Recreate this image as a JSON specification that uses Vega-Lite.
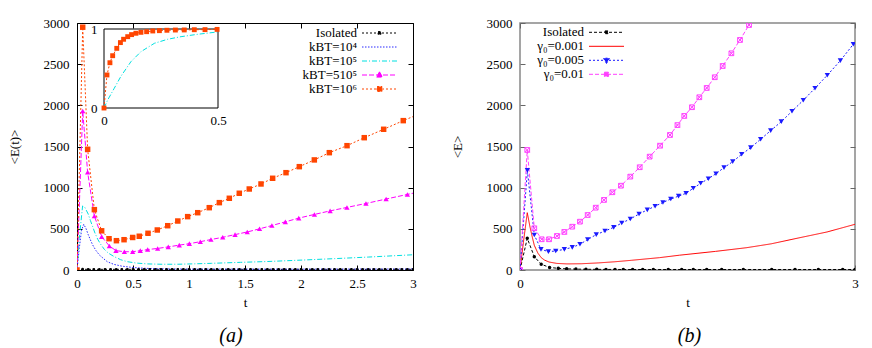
{
  "$schema": "https://vega.github.io/schema/vega-lite/v6.json",
  "padding": {"left": 7, "top": 16, "right": 5, "bottom": 3},
  "config": {
    "font": "Liberation Serif, Times New Roman, DejaVu Serif, serif",
    "axis": {"labelFont": "Liberation Serif, Times New Roman, DejaVu Serif, serif", "titleFont": "Liberation Serif, Times New Roman, DejaVu Serif, serif", "labelFontSize": 13, "titleFontSize": 13, "titleFontWeight": "normal", "labelColor": "#000", "titleColor": "#000", "tickColor": "#000", "grid": false, "domain": false},
    "legend": {"labelFont": "Liberation Serif, Times New Roman, DejaVu Serif, serif", "labelFontSize": 13, "labelColor": "#000"},
    "title": {"font": "Liberation Serif, Times New Roman, DejaVu Serif, serif"}
  },
  "datasets": {
    "a": [
      {"s": "Isolated", "t": 0, "v": 0}, {"s": "Isolated", "t": 0.05, "v": 9}, {"s": "Isolated", "t": 0.1, "v": 8}, {"s": "Isolated", "t": 0.15, "v": 8}, {"s": "Isolated", "t": 0.2, "v": 8}, {"s": "Isolated", "t": 0.25, "v": 8}, {"s": "Isolated", "t": 0.3, "v": 8}, {"s": "Isolated", "t": 0.35, "v": 8}, {"s": "Isolated", "t": 0.4, "v": 8}, {"s": "Isolated", "t": 0.45, "v": 8}, {"s": "Isolated", "t": 0.5, "v": 8}, {"s": "Isolated", "t": 0.55, "v": 8}, {"s": "Isolated", "t": 0.6, "v": 8}, {"s": "Isolated", "t": 0.65, "v": 8}, {"s": "Isolated", "t": 0.7, "v": 8}, {"s": "Isolated", "t": 0.75, "v": 8}, {"s": "Isolated", "t": 0.8, "v": 8}, {"s": "Isolated", "t": 0.85, "v": 8}, {"s": "Isolated", "t": 0.9, "v": 8}, {"s": "Isolated", "t": 0.95, "v": 8}, {"s": "Isolated", "t": 1.0, "v": 8}, {"s": "Isolated", "t": 1.05, "v": 8}, {"s": "Isolated", "t": 1.1, "v": 8}, {"s": "Isolated", "t": 1.15, "v": 8}, {"s": "Isolated", "t": 1.2, "v": 8}, {"s": "Isolated", "t": 1.25, "v": 8}, {"s": "Isolated", "t": 1.3, "v": 8}, {"s": "Isolated", "t": 1.35, "v": 8}, {"s": "Isolated", "t": 1.4, "v": 8}, {"s": "Isolated", "t": 1.45, "v": 8}, {"s": "Isolated", "t": 1.5, "v": 8}, {"s": "Isolated", "t": 1.55, "v": 8}, {"s": "Isolated", "t": 1.6, "v": 8}, {"s": "Isolated", "t": 1.65, "v": 8}, {"s": "Isolated", "t": 1.7, "v": 8}, {"s": "Isolated", "t": 1.75, "v": 8}, {"s": "Isolated", "t": 1.8, "v": 8}, {"s": "Isolated", "t": 1.85, "v": 8}, {"s": "Isolated", "t": 1.9, "v": 8}, {"s": "Isolated", "t": 1.95, "v": 8}, {"s": "Isolated", "t": 2.0, "v": 8}, {"s": "Isolated", "t": 2.05, "v": 8}, {"s": "Isolated", "t": 2.1, "v": 8}, {"s": "Isolated", "t": 2.15, "v": 8}, {"s": "Isolated", "t": 2.2, "v": 8}, {"s": "Isolated", "t": 2.25, "v": 8}, {"s": "Isolated", "t": 2.3, "v": 8}, {"s": "Isolated", "t": 2.35, "v": 8}, {"s": "Isolated", "t": 2.4, "v": 8}, {"s": "Isolated", "t": 2.45, "v": 8}, {"s": "Isolated", "t": 2.5, "v": 8}, {"s": "Isolated", "t": 2.55, "v": 8}, {"s": "Isolated", "t": 2.6, "v": 8}, {"s": "Isolated", "t": 2.65, "v": 8}, {"s": "Isolated", "t": 2.7, "v": 8}, {"s": "Isolated", "t": 2.75, "v": 8}, {"s": "Isolated", "t": 2.8, "v": 8}, {"s": "Isolated", "t": 2.85, "v": 8}, {"s": "Isolated", "t": 2.9, "v": 8}, {"s": "Isolated", "t": 2.95, "v": 8}, {"s": "Isolated", "t": 3.0, "v": 8},
      {"s": "kBT=10⁴", "t": 0, "v": 0}, {"s": "kBT=10⁴", "t": 0.02, "v": 260}, {"s": "kBT=10⁴", "t": 0.04, "v": 480}, {"s": "kBT=10⁴", "t": 0.06, "v": 555}, {"s": "kBT=10⁴", "t": 0.08, "v": 505}, {"s": "kBT=10⁴", "t": 0.1, "v": 430}, {"s": "kBT=10⁴", "t": 0.12, "v": 365}, {"s": "kBT=10⁴", "t": 0.14, "v": 304}, {"s": "kBT=10⁴", "t": 0.17, "v": 235}, {"s": "kBT=10⁴", "t": 0.2, "v": 182}, {"s": "kBT=10⁴", "t": 0.24, "v": 135}, {"s": "kBT=10⁴", "t": 0.27, "v": 101}, {"s": "kBT=10⁴", "t": 0.33, "v": 68}, {"s": "kBT=10⁴", "t": 0.4, "v": 47}, {"s": "kBT=10⁴", "t": 0.5, "v": 30}, {"s": "kBT=10⁴", "t": 0.6, "v": 21}, {"s": "kBT=10⁴", "t": 0.7, "v": 16}, {"s": "kBT=10⁴", "t": 0.8, "v": 13}, {"s": "kBT=10⁴", "t": 1.0, "v": 11}, {"s": "kBT=10⁴", "t": 1.5, "v": 10}, {"s": "kBT=10⁴", "t": 2.0, "v": 10}, {"s": "kBT=10⁴", "t": 2.5, "v": 11}, {"s": "kBT=10⁴", "t": 3.0, "v": 12},
      {"s": "kBT=10⁵", "t": 0, "v": 0}, {"s": "kBT=10⁵", "t": 0.02, "v": 380}, {"s": "kBT=10⁵", "t": 0.05, "v": 778}, {"s": "kBT=10⁵", "t": 0.07, "v": 760}, {"s": "kBT=10⁵", "t": 0.1, "v": 680}, {"s": "kBT=10⁵", "t": 0.12, "v": 600}, {"s": "kBT=10⁵", "t": 0.14, "v": 526}, {"s": "kBT=10⁵", "t": 0.16, "v": 450}, {"s": "kBT=10⁵", "t": 0.185, "v": 373}, {"s": "kBT=10⁵", "t": 0.21, "v": 315}, {"s": "kBT=10⁵", "t": 0.244, "v": 251}, {"s": "kBT=10⁵", "t": 0.28, "v": 205}, {"s": "kBT=10⁵", "t": 0.333, "v": 162}, {"s": "kBT=10⁵", "t": 0.39, "v": 125}, {"s": "kBT=10⁵", "t": 0.45, "v": 101}, {"s": "kBT=10⁵", "t": 0.53, "v": 84}, {"s": "kBT=10⁵", "t": 0.63, "v": 74}, {"s": "kBT=10⁵", "t": 0.75, "v": 70}, {"s": "kBT=10⁵", "t": 0.9, "v": 70}, {"s": "kBT=10⁵", "t": 1.05, "v": 75}, {"s": "kBT=10⁵", "t": 1.2, "v": 81}, {"s": "kBT=10⁵", "t": 1.46, "v": 93}, {"s": "kBT=10⁵", "t": 1.7, "v": 103}, {"s": "kBT=10⁵", "t": 2.0, "v": 120}, {"s": "kBT=10⁵", "t": 2.3, "v": 138}, {"s": "kBT=10⁵", "t": 2.6, "v": 157}, {"s": "kBT=10⁵", "t": 3.0, "v": 185},
      {"s": "kBT=510⁵", "t": 0, "v": 0}, {"s": "kBT=510⁵", "t": 0.051, "v": 1932}, {"s": "kBT=510⁵", "t": 0.095, "v": 1187}, {"s": "kBT=510⁵", "t": 0.155, "v": 656}, {"s": "kBT=510⁵", "t": 0.22, "v": 405}, {"s": "kBT=510⁵", "t": 0.289, "v": 292}, {"s": "kBT=510⁵", "t": 0.348, "v": 235}, {"s": "kBT=510⁵", "t": 0.423, "v": 222}, {"s": "kBT=510⁵", "t": 0.497, "v": 222}, {"s": "kBT=510⁵", "t": 0.565, "v": 235}, {"s": "kBT=510⁵", "t": 0.631, "v": 248}, {"s": "kBT=510⁵", "t": 0.72, "v": 262}, {"s": "kBT=510⁵", "t": 0.815, "v": 281}, {"s": "kBT=510⁵", "t": 0.913, "v": 302}, {"s": "kBT=510⁵", "t": 1.003, "v": 320}, {"s": "kBT=510⁵", "t": 1.101, "v": 344}, {"s": "kBT=510⁵", "t": 1.196, "v": 370}, {"s": "kBT=510⁵", "t": 1.301, "v": 397}, {"s": "kBT=510⁵", "t": 1.411, "v": 430}, {"s": "kBT=510⁵", "t": 1.52, "v": 462}, {"s": "kBT=510⁵", "t": 1.63, "v": 500}, {"s": "kBT=510⁵", "t": 1.74, "v": 540}, {"s": "kBT=510⁵", "t": 1.86, "v": 585}, {"s": "kBT=510⁵", "t": 1.98, "v": 630}, {"s": "kBT=510⁵", "t": 2.12, "v": 675}, {"s": "kBT=510⁵", "t": 2.26, "v": 718}, {"s": "kBT=510⁵", "t": 2.41, "v": 760}, {"s": "kBT=510⁵", "t": 2.58, "v": 808}, {"s": "kBT=510⁵", "t": 2.76, "v": 862}, {"s": "kBT=510⁵", "t": 2.95, "v": 918}, {"s": "kBT=510⁵", "t": 3.1, "v": 962},
      {"s": "kBT=10⁶", "t": 0, "v": 0}, {"s": "kBT=10⁶", "t": 0.051, "v": 2949}, {"s": "kBT=10⁶", "t": 0.095, "v": 1466}, {"s": "kBT=10⁶", "t": 0.155, "v": 733}, {"s": "kBT=10⁶", "t": 0.22, "v": 476}, {"s": "kBT=10⁶", "t": 0.286, "v": 380}, {"s": "kBT=10⁶", "t": 0.352, "v": 356}, {"s": "kBT=10⁶", "t": 0.42, "v": 368}, {"s": "kBT=10⁶", "t": 0.497, "v": 395}, {"s": "kBT=10⁶", "t": 0.556, "v": 410}, {"s": "kBT=10⁶", "t": 0.634, "v": 446}, {"s": "kBT=10⁶", "t": 0.717, "v": 486}, {"s": "kBT=10⁶", "t": 0.81, "v": 538}, {"s": "kBT=10⁶", "t": 0.9, "v": 595}, {"s": "kBT=10⁶", "t": 0.988, "v": 648}, {"s": "kBT=10⁶", "t": 1.078, "v": 696}, {"s": "kBT=10⁶", "t": 1.181, "v": 757}, {"s": "kBT=10⁶", "t": 1.271, "v": 818}, {"s": "kBT=10⁶", "t": 1.36, "v": 871}, {"s": "kBT=10⁶", "t": 1.449, "v": 932}, {"s": "kBT=10⁶", "t": 1.538, "v": 984}, {"s": "kBT=10⁶", "t": 1.643, "v": 1045}, {"s": "kBT=10⁶", "t": 1.747, "v": 1114}, {"s": "kBT=10⁶", "t": 1.866, "v": 1182}, {"s": "kBT=10⁶", "t": 1.985, "v": 1255}, {"s": "kBT=10⁶", "t": 2.119, "v": 1337}, {"s": "kBT=10⁶", "t": 2.253, "v": 1425}, {"s": "kBT=10⁶", "t": 2.411, "v": 1510}, {"s": "kBT=10⁶", "t": 2.565, "v": 1607}, {"s": "kBT=10⁶", "t": 2.738, "v": 1709}, {"s": "kBT=10⁶", "t": 2.913, "v": 1814}, {"s": "kBT=10⁶", "t": 3.1, "v": 1920}
    ],
    "ins": [
      {"s": "o", "t": 0, "v": 0}, {"s": "o", "t": 0.013, "v": 0.418}, {"s": "o", "t": 0.026, "v": 0.573}, {"s": "o", "t": 0.038, "v": 0.662}, {"s": "o", "t": 0.056, "v": 0.755}, {"s": "o", "t": 0.072, "v": 0.828}, {"s": "o", "t": 0.086, "v": 0.87}, {"s": "o", "t": 0.104, "v": 0.903}, {"s": "o", "t": 0.121, "v": 0.929}, {"s": "o", "t": 0.14, "v": 0.946}, {"s": "o", "t": 0.162, "v": 0.958}, {"s": "o", "t": 0.187, "v": 0.966}, {"s": "o", "t": 0.214, "v": 0.975}, {"s": "o", "t": 0.243, "v": 0.979}, {"s": "o", "t": 0.276, "v": 0.984}, {"s": "o", "t": 0.313, "v": 0.987}, {"s": "o", "t": 0.352, "v": 0.988}, {"s": "o", "t": 0.396, "v": 0.991}, {"s": "o", "t": 0.443, "v": 0.992}, {"s": "o", "t": 0.496, "v": 0.995},
      {"s": "c", "t": 0, "v": 0}, {"s": "c", "t": 0.016, "v": 0.1}, {"s": "c", "t": 0.045, "v": 0.25}, {"s": "c", "t": 0.075, "v": 0.405}, {"s": "c", "t": 0.118, "v": 0.586}, {"s": "c", "t": 0.162, "v": 0.713}, {"s": "c", "t": 0.221, "v": 0.819}, {"s": "c", "t": 0.279, "v": 0.87}, {"s": "c", "t": 0.338, "v": 0.903}, {"s": "c", "t": 0.411, "v": 0.933}, {"s": "c", "t": 0.496, "v": 0.962}
    ],
    "b": [
      {"s": "Isolated", "t": 0, "v": 0}, {"s": "Isolated", "t": 0.065, "v": 385}, {"s": "Isolated", "t": 0.128, "v": 162}, {"s": "Isolated", "t": 0.19, "v": 70}, {"s": "Isolated", "t": 0.265, "v": 31}, {"s": "Isolated", "t": 0.343, "v": 20}, {"s": "Isolated", "t": 0.418, "v": 14}, {"s": "Isolated", "t": 0.501, "v": 11}, {"s": "Isolated", "t": 0.591, "v": 9}, {"s": "Isolated", "t": 0.687, "v": 8}, {"s": "Isolated", "t": 0.77, "v": 7}, {"s": "Isolated", "t": 0.851, "v": 7}, {"s": "Isolated", "t": 0.925, "v": 6}, {"s": "Isolated", "t": 1.009, "v": 6}, {"s": "Isolated", "t": 1.099, "v": 6}, {"s": "Isolated", "t": 1.194, "v": 6}, {"s": "Isolated", "t": 1.328, "v": 6}, {"s": "Isolated", "t": 1.448, "v": 6}, {"s": "Isolated", "t": 1.552, "v": 6}, {"s": "Isolated", "t": 1.672, "v": 6}, {"s": "Isolated", "t": 1.806, "v": 6}, {"s": "Isolated", "t": 2.0, "v": 6}, {"s": "Isolated", "t": 2.254, "v": 6}, {"s": "Isolated", "t": 2.463, "v": 6}, {"s": "Isolated", "t": 2.672, "v": 6}, {"s": "Isolated", "t": 2.89, "v": 6}, {"s": "Isolated", "t": 3.0, "v": 6},
      {"s": "γ₀=0.001", "t": 0, "v": 0}, {"s": "γ₀=0.001", "t": 0.03, "v": 330}, {"s": "γ₀=0.001", "t": 0.065, "v": 696}, {"s": "γ₀=0.001", "t": 0.09, "v": 520}, {"s": "γ₀=0.001", "t": 0.11, "v": 400}, {"s": "γ₀=0.001", "t": 0.128, "v": 300}, {"s": "γ₀=0.001", "t": 0.16, "v": 205}, {"s": "γ₀=0.001", "t": 0.19, "v": 150}, {"s": "γ₀=0.001", "t": 0.22, "v": 120}, {"s": "γ₀=0.001", "t": 0.26, "v": 97}, {"s": "γ₀=0.001", "t": 0.33, "v": 80}, {"s": "γ₀=0.001", "t": 0.42, "v": 74}, {"s": "γ₀=0.001", "t": 0.55, "v": 76}, {"s": "γ₀=0.001", "t": 0.7, "v": 86}, {"s": "γ₀=0.001", "t": 0.85, "v": 100}, {"s": "γ₀=0.001", "t": 1.0, "v": 118}, {"s": "γ₀=0.001", "t": 1.25, "v": 150}, {"s": "γ₀=0.001", "t": 1.43, "v": 180}, {"s": "γ₀=0.001", "t": 1.75, "v": 226}, {"s": "γ₀=0.001", "t": 2.03, "v": 271}, {"s": "γ₀=0.001", "t": 2.25, "v": 318}, {"s": "γ₀=0.001", "t": 2.48, "v": 385}, {"s": "γ₀=0.001", "t": 2.75, "v": 462}, {"s": "γ₀=0.001", "t": 3.0, "v": 555},
      {"s": "γ₀=0.005", "t": 0, "v": 0}, {"s": "γ₀=0.005", "t": 0.066, "v": 1210}, {"s": "γ₀=0.005", "t": 0.128, "v": 425}, {"s": "γ₀=0.005", "t": 0.188, "v": 251}, {"s": "γ₀=0.005", "t": 0.254, "v": 223}, {"s": "γ₀=0.005", "t": 0.32, "v": 231}, {"s": "γ₀=0.005", "t": 0.397, "v": 251}, {"s": "γ₀=0.005", "t": 0.468, "v": 275}, {"s": "γ₀=0.005", "t": 0.537, "v": 312}, {"s": "γ₀=0.005", "t": 0.606, "v": 370}, {"s": "γ₀=0.005", "t": 0.683, "v": 430}, {"s": "γ₀=0.005", "t": 0.761, "v": 474}, {"s": "γ₀=0.005", "t": 0.839, "v": 518}, {"s": "γ₀=0.005", "t": 0.911, "v": 570}, {"s": "γ₀=0.005", "t": 0.988, "v": 620}, {"s": "γ₀=0.005", "t": 1.066, "v": 680}, {"s": "γ₀=0.005", "t": 1.14, "v": 730}, {"s": "γ₀=0.005", "t": 1.21, "v": 775}, {"s": "γ₀=0.005", "t": 1.28, "v": 820}, {"s": "γ₀=0.005", "t": 1.35, "v": 862}, {"s": "γ₀=0.005", "t": 1.42, "v": 897}, {"s": "γ₀=0.005", "t": 1.487, "v": 932}, {"s": "γ₀=0.005", "t": 1.552, "v": 993}, {"s": "γ₀=0.005", "t": 1.618, "v": 1053}, {"s": "γ₀=0.005", "t": 1.687, "v": 1109}, {"s": "γ₀=0.005", "t": 1.755, "v": 1170}, {"s": "γ₀=0.005", "t": 1.827, "v": 1243}, {"s": "γ₀=0.005", "t": 1.905, "v": 1316}, {"s": "γ₀=0.005", "t": 1.985, "v": 1405}, {"s": "γ₀=0.005", "t": 2.066, "v": 1486}, {"s": "γ₀=0.005", "t": 2.155, "v": 1588}, {"s": "γ₀=0.005", "t": 2.245, "v": 1693}, {"s": "γ₀=0.005", "t": 2.34, "v": 1802}, {"s": "γ₀=0.005", "t": 2.436, "v": 1928}, {"s": "γ₀=0.005", "t": 2.537, "v": 2062}, {"s": "γ₀=0.005", "t": 2.642, "v": 2208}, {"s": "γ₀=0.005", "t": 2.752, "v": 2366}, {"s": "γ₀=0.005", "t": 2.869, "v": 2543}, {"s": "γ₀=0.005", "t": 2.985, "v": 2742},
      {"s": "γ₀=0.01", "t": 0, "v": 0}, {"s": "γ₀=0.01", "t": 0.065, "v": 1458}, {"s": "γ₀=0.01", "t": 0.128, "v": 507}, {"s": "γ₀=0.01", "t": 0.194, "v": 373}, {"s": "γ₀=0.01", "t": 0.26, "v": 373}, {"s": "γ₀=0.01", "t": 0.331, "v": 413}, {"s": "γ₀=0.01", "t": 0.397, "v": 462}, {"s": "γ₀=0.01", "t": 0.468, "v": 526}, {"s": "γ₀=0.01", "t": 0.537, "v": 587}, {"s": "γ₀=0.01", "t": 0.606, "v": 668}, {"s": "γ₀=0.01", "t": 0.678, "v": 757}, {"s": "γ₀=0.01", "t": 0.752, "v": 851}, {"s": "γ₀=0.01", "t": 0.827, "v": 944}, {"s": "γ₀=0.01", "t": 0.904, "v": 1024}, {"s": "γ₀=0.01", "t": 0.988, "v": 1134}, {"s": "γ₀=0.01", "t": 1.072, "v": 1248}, {"s": "γ₀=0.01", "t": 1.161, "v": 1377}, {"s": "γ₀=0.01", "t": 1.254, "v": 1510}, {"s": "γ₀=0.01", "t": 1.343, "v": 1640}, {"s": "γ₀=0.01", "t": 1.41, "v": 1760}, {"s": "γ₀=0.01", "t": 1.471, "v": 1871}, {"s": "γ₀=0.01", "t": 1.54, "v": 1977}, {"s": "γ₀=0.01", "t": 1.606, "v": 2098}, {"s": "γ₀=0.01", "t": 1.672, "v": 2211}, {"s": "γ₀=0.01", "t": 1.744, "v": 2341}, {"s": "γ₀=0.01", "t": 1.815, "v": 2478}, {"s": "γ₀=0.01", "t": 1.893, "v": 2632}, {"s": "γ₀=0.01", "t": 1.97, "v": 2794}, {"s": "γ₀=0.01", "t": 2.051, "v": 2976}, {"s": "γ₀=0.01", "t": 2.13, "v": 3160}
    ]
  },
  "spacing": 33,
  "resolve": {"scale": {"color": "independent", "strokeDash": "independent"}, "legend": {"color": "independent", "strokeDash": "independent"}},
  "hconcat": [
    {
      "width": 336, "height": 247,
      "view": {"stroke": "#000", "strokeWidth": 1},
      "title": {"text": "(a)", "orient": "bottom", "anchor": "middle", "frame": "group", "dx": -14, "offset": 17, "font": "Liberation Serif, Times New Roman, DejaVu Serif, serif", "fontSize": 20, "fontStyle": "italic", "fontWeight": "normal", "color": "#000"},
      "resolve": {"scale": {"x": "independent", "y": "independent"}, "axis": {"x": "independent", "y": "independent"}},
      "layer": [
        {
          "data": {"name": "a"},
          "layer": [
            {
              "mark": {"type": "line", "strokeWidth": 1, "clip": true},
              "encoding": {
                "x": {"field": "t", "type": "quantitative", "scale": {"domain": [0, 3], "nice": false, "zero": false}, "axis": {"orient": "bottom", "values": [0, 0.5, 1, 1.5, 2, 2.5, 3], "format": "~g", "title": "t", "tickSize": -5, "labelPadding": 12, "titlePadding": 6, "labelFlush": false}},
                "y": {"field": "v", "type": "quantitative", "scale": {"domain": [0, 3000], "nice": false}, "axis": {"orient": "left", "values": [0, 500, 1000, 1500, 2000, 2500, 3000], "format": "d", "title": "<E(t)>", "tickSize": -5, "labelPadding": 13, "titlePadding": 22}},
                "color": {"field": "s", "type": "nominal",
                  "scale": {"domain": ["Isolated", "kBT=10⁴", "kBT=10⁵", "kBT=510⁵", "kBT=10⁶"], "range": ["#000000", "#2a2aff", "#00e0e0", "#ff00ff", "#ff4500"]},
                  "legend": {"title": null, "orient": "none", "legendX": 296, "legendY": 3.5, "labelAlign": "right", "labelOffset": -29, "labelLimit": 300, "symbolType": "M-5,0H5", "symbolSize": 49, "symbolStrokeWidth": 1, "rowPadding": 0, "padding": 0,
                    "encode": {"symbols": {"update": {
                      "shape": {"signal": "datum.value === 'Isolated' ? 'M-5,0H5M-0.4,-0.4H0.4V0.4H-0.4Z' : datum.value === 'kBT=510⁵' ? 'M-5,0H5M0,-0.9L0.85,0.6L-0.85,0.6Z' : datum.value === 'kBT=10⁶' ? 'M-5,0H5M-0.7,-0.7H0.7V0.7H-0.7Z' : 'M-5,0H5'"},
                      "fill": {"signal": "datum.value === 'Isolated' ? '#000000' : datum.value === 'kBT=510⁵' ? '#ff00ff' : datum.value === 'kBT=10⁶' ? '#ff4500' : 'transparent'"},
                      "stroke": {"signal": "datum.value === 'Isolated' ? '#000000' : datum.value === 'kBT=10⁴' ? '#2a2aff' : datum.value === 'kBT=10⁵' ? '#00e0e0' : datum.value === 'kBT=510⁵' ? '#ff00ff' : '#ff4500'"}
                    }}}}},
                "strokeDash": {"field": "s", "type": "nominal",
                  "scale": {"domain": ["Isolated", "kBT=10⁴", "kBT=10⁵", "kBT=510⁵", "kBT=10⁶"], "range": [[2, 2], [1.5, 1.5], [5, 2, 1, 2], [5, 2], [2, 2]]}}
              }
            },
            {
              "transform": [{"filter": {"field": "s", "equal": "Isolated"}}],
              "mark": {"type": "point", "shape": "circle", "size": 8, "filled": true, "opacity": 1, "clip": true},
              "encoding": {"x": {"field": "t", "type": "quantitative"}, "y": {"field": "v", "type": "quantitative"}, "color": {"field": "s", "type": "nominal", "legend": null}}
            },
            {
              "transform": [{"filter": {"field": "s", "equal": "kBT=510⁵"}}],
              "mark": {"type": "point", "shape": "triangle-up", "size": 28, "filled": true, "opacity": 1, "clip": true},
              "encoding": {"x": {"field": "t", "type": "quantitative"}, "y": {"field": "v", "type": "quantitative"}, "color": {"field": "s", "type": "nominal", "legend": null}}
            },
            {
              "transform": [{"filter": {"field": "s", "equal": "kBT=10⁶"}}],
              "mark": {"type": "point", "shape": "square", "size": 30, "filled": true, "opacity": 1, "clip": true},
              "encoding": {"x": {"field": "t", "type": "quantitative"}, "y": {"field": "v", "type": "quantitative"}, "color": {"field": "s", "type": "nominal", "legend": null}}
            }
          ]
        },
        {
          "data": {"name": "ins"},
          "layer": [
            {
              "data": {"values": [{}]},
              "mark": {"type": "rect", "fill": "#ffffff", "stroke": "#000000", "strokeWidth": 1},
              "encoding": {
                "x": {"datum": 0, "type": "quantitative", "scale": {"domain": [0, 0.5], "range": [27, 141], "nice": false, "zero": false}, "axis": {"orient": "bottom", "offset": -162, "values": [0, 0.5], "format": "~g", "title": null, "ticks": false, "labelPadding": 6, "labelFlush": false}},
                "x2": {"datum": 0.5},
                "y": {"datum": 0, "type": "quantitative", "scale": {"domain": [0, 1], "range": [85, 6], "nice": false, "zero": false}, "axis": {"orient": "left", "offset": -27, "values": [0, 1], "format": "d", "title": null, "ticks": false, "labelPadding": 7}},
                "y2": {"datum": 1}
              }
            },
            {
              "transform": [{"filter": {"field": "s", "equal": "c"}}],
              "mark": {"type": "line", "color": "#00e0e0", "strokeWidth": 1, "strokeDash": [5, 2, 1, 2]},
              "encoding": {"x": {"field": "t", "type": "quantitative"}, "y": {"field": "v", "type": "quantitative"}}
            },
            {
              "transform": [{"filter": {"field": "s", "equal": "o"}}],
              "mark": {"type": "line", "color": "#ff4500", "strokeWidth": 1, "strokeDash": [2, 2]},
              "encoding": {"x": {"field": "t", "type": "quantitative"}, "y": {"field": "v", "type": "quantitative"}}
            },
            {
              "transform": [{"filter": {"field": "s", "equal": "o"}}],
              "mark": {"type": "point", "shape": "square", "size": 24, "filled": true, "opacity": 1, "color": "#ff4500"},
              "encoding": {"x": {"field": "t", "type": "quantitative"}, "y": {"field": "v", "type": "quantitative"}}
            }
          ]
        },
        {
          "data": {"name": "a"},
          "mark": {"type": "point", "opacity": 0, "clip": true},
          "encoding": {
            "x": {"field": "t", "type": "quantitative", "scale": {"domain": [0, 3], "nice": false, "zero": false}, "axis": {"orient": "top", "values": [0, 0.5, 1, 1.5, 2, 2.5, 3], "labels": false, "title": null, "tickSize": -5}},
            "y": {"field": "v", "type": "quantitative", "scale": {"domain": [0, 3000], "nice": false}, "axis": {"orient": "right", "values": [0, 500, 1000, 1500, 2000, 2500, 3000], "labels": false, "title": null, "tickSize": -5}}
          }
        }
      ]
    },
    {
      "width": 335, "height": 247,
      "view": {"stroke": "#888888", "strokeWidth": 1.5},
      "title": {"text": "(b)", "orient": "bottom", "anchor": "middle", "frame": "group", "dx": 2, "offset": 17, "font": "Liberation Serif, Times New Roman, DejaVu Serif, serif", "fontSize": 20, "fontStyle": "italic", "fontWeight": "normal", "color": "#000"},
      "resolve": {"scale": {"x": "independent", "y": "independent"}, "axis": {"x": "independent", "y": "independent"}},
      "layer": [
        {
          "data": {"name": "b"},
          "layer": [
            {
              "mark": {"type": "line", "strokeWidth": 1, "clip": true},
              "encoding": {
                "x": {"field": "t", "type": "quantitative", "scale": {"domain": [0, 3], "nice": false, "zero": false}, "axis": {"orient": "bottom", "values": [0, 3], "format": "~g", "title": "t", "tickSize": -5, "tickColor": "#666666", "labelPadding": 12, "titlePadding": 6, "labelFlush": false}},
                "y": {"field": "v", "type": "quantitative", "scale": {"domain": [0, 3000], "nice": false}, "axis": {"orient": "left", "values": [0, 500, 1000, 1500, 2000, 2500, 3000], "format": "d", "title": "<E>", "tickSize": -5, "tickColor": "#666666", "labelPadding": 13, "titlePadding": 22}},
                "color": {"field": "s", "type": "nominal",
                  "scale": {"domain": ["Isolated", "γ₀=0.001", "γ₀=0.005", "γ₀=0.01"], "range": ["#000000", "#ff0000", "#1a1aff", "#ff40ff"]},
                  "legend": {"title": null, "orient": "none", "legendX": 80, "legendY": 2.8, "labelAlign": "right", "labelOffset": -29, "labelLimit": 300, "symbolType": "M-5,0H5", "symbolSize": 49, "symbolStrokeWidth": 1, "rowPadding": 0, "padding": 0,
                    "encode": {"symbols": {"update": {
                      "shape": {"signal": "datum.value === 'Isolated' ? 'M-5,0H5M-0.4,-0.4H0.4V0.4H-0.4Z' : datum.value === 'γ₀=0.005' ? 'M-5,0H5M0,0.9L0.85,-0.6L-0.85,-0.6Z' : datum.value === 'γ₀=0.01' ? 'M-5,0H5M-0.6,-0.6H0.6V0.6H-0.6ZM-0.6,-0.6L0.6,0.6M0.6,-0.6L-0.6,0.6' : 'M-5,0H5'"},
                      "fill": {"signal": "datum.value === 'Isolated' ? '#000000' : datum.value === 'γ₀=0.005' ? '#1a1aff' : 'transparent'"},
                      "stroke": {"signal": "datum.value === 'Isolated' ? '#000000' : datum.value === 'γ₀=0.001' ? '#ff0000' : datum.value === 'γ₀=0.005' ? '#1a1aff' : '#ff40ff'"}
                    }}}}},
                "strokeDash": {"field": "s", "type": "nominal",
                  "scale": {"domain": ["Isolated", "γ₀=0.001", "γ₀=0.005", "γ₀=0.01"], "range": [[3, 2], [1, 0], [2, 2], [4, 2]]}}
              }
            },
            {
              "transform": [{"filter": {"field": "s", "equal": "Isolated"}}],
              "mark": {"type": "point", "shape": "circle", "size": 12, "filled": true, "opacity": 1, "clip": true},
              "encoding": {"x": {"field": "t", "type": "quantitative"}, "y": {"field": "v", "type": "quantitative"}, "color": {"field": "s", "type": "nominal", "legend": null}}
            },
            {
              "transform": [{"filter": {"field": "s", "equal": "γ₀=0.005"}}],
              "mark": {"type": "point", "shape": "triangle-down", "size": 28, "filled": true, "opacity": 1, "clip": true},
              "encoding": {"x": {"field": "t", "type": "quantitative"}, "y": {"field": "v", "type": "quantitative"}, "color": {"field": "s", "type": "nominal", "legend": null}}
            },
            {
              "transform": [{"filter": {"field": "s", "equal": "γ₀=0.01"}}],
              "mark": {"type": "point", "shape": "M-1,-1H1V1H-1ZM-1,-1L1,1M1,-1L-1,1", "size": 22, "filled": false, "strokeWidth": 1, "opacity": 1, "clip": true},
              "encoding": {"x": {"field": "t", "type": "quantitative"}, "y": {"field": "v", "type": "quantitative"}, "color": {"field": "s", "type": "nominal", "legend": null}}
            }
          ]
        },
        {
          "data": {"name": "b"},
          "mark": {"type": "point", "opacity": 0, "clip": true},
          "encoding": {
            "x": {"field": "t", "type": "quantitative", "scale": {"domain": [0, 3], "nice": false, "zero": false}, "axis": {"orient": "top", "values": [0, 3], "labels": false, "title": null, "tickSize": -5, "tickColor": "#666666"}},
            "y": {"field": "v", "type": "quantitative", "scale": {"domain": [0, 3000], "nice": false}, "axis": {"orient": "right", "values": [0, 500, 1000, 1500, 2000, 2500, 3000], "labels": false, "title": null, "tickSize": -5, "tickColor": "#666666"}}
          }
        }
      ]
    }
  ]
}
